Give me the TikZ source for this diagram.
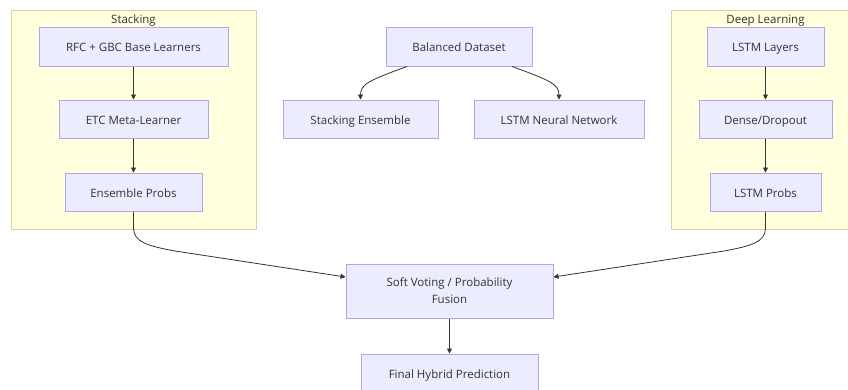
\documentclass[tikz,border=0pt]{standalone}
\usepackage{fontspec}
\setmainfont{Open Sans}
\usetikzlibrary{arrows.meta}
\definecolor{nodefill}{HTML}{ECECFF}
\definecolor{nodestroke}{HTML}{B7A2EC}
\definecolor{clusterfill}{HTML}{FFFFDE}
\definecolor{clusterstroke}{HTML}{D6D68A}
\definecolor{txt}{HTML}{333333}
\tikzset{
  basebox/.style={draw=nodestroke, fill=nodefill, line width=1pt, inner sep=0pt,
    text=txt, font=\fontsize{11.5}{17}\selectfont, align=center},
  box/.style={basebox, text height=10pt, text depth=0pt},
  cluster/.style={draw=clusterstroke, fill=clusterfill, line width=1pt},
  ctitle/.style={text=txt, font=\fontsize{11.5}{14}\selectfont, inner sep=0pt,
    text height=10pt, text depth=0pt},
  edge/.style={draw=txt, line width=0.8pt, -{Triangle[length=5pt,width=5pt]}}
}
\begin{document}
\begin{tikzpicture}[x=1pt,y=-1pt]
\clip (0,0) rectangle (848,389);
\fill[white] (0,0) rectangle (848,389);
% clusters
\draw[cluster] (11,10) rectangle (256,229);
\node[ctitle] (tstack) at (133.5,18) {Stacking};
\draw[cluster] (671,10) rectangle (860,229);
\node[ctitle] (tdeep) at (765.5,18) {Deep Learning};
% nodes
\node[box, minimum width=189pt, minimum height=39pt] (rfc) at (133.5,46.5) {RFC + GBC Base Learners};
\node[box, minimum width=149pt, minimum height=38pt] (etc) at (133.5,119) {ETC Meta-Learner};
\node[box, minimum width=137pt, minimum height=38pt] (ens) at (133.5,192) {Ensemble Probs};
\node[box, minimum width=146pt, minimum height=39pt] (bal) at (459,46.5) {Balanced Dataset};
\node[box, minimum width=155pt, minimum height=38pt] (stk) at (360.5,119) {Stacking Ensemble};
\node[box, minimum width=170pt, minimum height=38pt] (lnn) at (559,119) {LSTM Neural Network};
\node[box, minimum width=117pt, minimum height=39pt] (lay) at (765.5,46.5) {LSTM Layers};
\node[box, minimum width=133pt, minimum height=38pt] (den) at (765.5,119) {Dense/Dropout};
\node[box, minimum width=111pt, minimum height=38pt] (lp) at (765.5,192) {LSTM Probs};
\node[basebox, minimum width=207pt, minimum height=54pt] (soft) at (449.5,291) {Soft Voting / Probability\\Fusion};
\node[box, minimum width=177pt, minimum height=39pt] (fin) at (449.5,373.5) {Final Hybrid Prediction};
% edges
\draw[edge] (rfc) -- (etc);
\draw[edge] (etc) -- (ens);
\draw[edge] (lay) -- (den);
\draw[edge] (den) -- (lp);
\draw[edge] ([xshift=-52pt]bal.south) .. controls (370,80) and (360.5,84) .. (stk.north);
\draw[edge] ([xshift=53pt]bal.south) .. controls (549,80) and (559,84) .. (lnn.north);
\draw[edge] (ens.south) -- (133.5,228) .. controls (133.5,242) and (148,246) .. (175,251) -- ([yshift=14pt]soft.west);
\draw[edge] (lp.south) -- (765.5,228) .. controls (765.5,242) and (751,246) .. (724,251) -- ([yshift=14pt]soft.east);
\draw[edge] (soft) -- (fin);
\end{tikzpicture}
\end{document}
